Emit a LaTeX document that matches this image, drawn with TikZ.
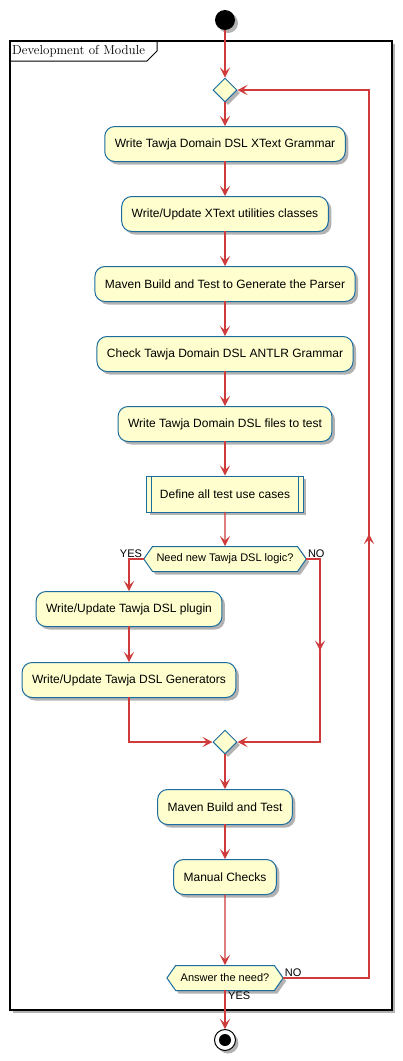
\documentclass[tikz,border=0pt]{standalone}
\usepackage{fontspec}
\newfontfamily\umlfont{Liberation Sans}
\usetikzlibrary{shapes.geometric,shapes.symbols,arrows.meta,shadows,decorations.markings}
\definecolor{umlfill}{HTML}{FEFECE}
\definecolor{umlblue}{HTML}{1B6DA0}
\definecolor{umlred}{HTML}{CF3A3A}
\tikzset{
  umlshadow/.style={drop shadow={shadow xshift=3pt,shadow yshift=-3pt,opacity=0.3,fill=black}},
  activity/.style={rectangle,rounded corners=10pt,draw=umlblue,fill=umlfill,line width=1pt,
    minimum height=35pt,inner xsep=10pt,font=\umlfont\fontsize{12}{14}\selectfont,umlshadow},
  subactivity/.style={activity,rounded corners=0pt,inner xsep=13pt,minimum height=36pt},
  junction/.style={diamond,draw=umlblue,fill=umlfill,line width=1pt,minimum width=24pt,
    minimum height=24pt,inner sep=0pt,umlshadow},
  decision/.style={signal,signal to=west and east,signal pointer angle=110,draw=umlblue,
    fill=umlfill,line width=1pt,minimum height=25pt,inner xsep=4pt,inner ysep=0pt,
    font=\umlfont\fontsize{11}{13}\selectfont,umlshadow},
  guard/.style={inner sep=1pt,font=\umlfont\fontsize{11}{13}\selectfont},
  flow/.style={umlred,line width=1.2pt,line cap=rect},
  flowarrow/.style={flow,-{Stealth[length=10pt,width=10pt,inset=4.5pt]}},
  midarrow/.style={flow,postaction={decorate},
    decoration={markings,mark=at position 0.5 with {\arrow{Stealth[length=10pt,width=10pt,inset=4.5pt]}}}},
}
\begin{document}
\begin{tikzpicture}[x=1pt,y=-1pt]
    \useasboundingbox (0,0) rectangle (402,1061);

    % frame of the module
    \draw[black,line width=1.5pt,fill=white,umlshadow] (10,41) rectangle (392,1010);
    \draw[black,line width=1pt] (10,61) -- (147,61) -- (157,51) -- (157,41);
    \node[anchor=west,inner sep=0pt,font=\fontsize{13}{15}\selectfont] (frametitle) at (12,51) {Development of Module};

    \node[circle,fill=black,minimum size=20pt,inner sep=0pt,umlshadow] (start) at (225,20) {};
    \node[junction] (m1) at (225,90) {};

    \foreach \i/\y/\t in {1/144/{Write Tawja Domain DSL XText Grammar},2/214/{Write/Update XText utilities classes},3/284/{Maven Build and Test to Generate the Parser},4/354/{Check Tawja Domain DSL ANTLR Grammar},5/424/{Write Tawja Domain DSL files to test}} {
      \node[activity] (b\i) at (225,\y) {\t};
    }
    \node[subactivity] (b6) at (225,494) {Define all test use cases};
    \draw[umlblue,line width=1pt] ([xshift=5pt]b6.north west) -- ([xshift=5pt]b6.south west);
    \draw[umlblue,line width=1pt] ([xshift=-5pt]b6.north east) -- ([xshift=-5pt]b6.south east);

    \node[decision] (q1) at (225,559) {Need new Tawja DSL logic?};
    \node[guard,anchor=south east] (q1yes) at (q1.west) {YES};
    \node[guard,anchor=south west] (q1no) at (q1.east) {NO};

    \node[activity] (plugin) at (129,609) {Write/Update Tawja DSL plugin};
    \node[activity] (gen) at (129,680) {Write/Update Tawja DSL Generators};
    \node[junction] (m2) at (225,742) {};
    \coordinate (nobend) at (320,559);
    \coordinate (nojoin) at (320,742);

    \node[activity] (b7) at (225,807) {Maven Build and Test};
    \node[activity] (b8) at (225,877) {Manual Checks};
    \node[decision,inner xsep=5pt] (q2) at (225,978) {Answer the need?};
    \node[guard,anchor=south west] (q2no) at (q2.east) {NO};
    \node[guard,anchor=north west,xshift=2pt] (q2yes) at (q2.south) {YES};
    \coordinate (loopbot) at (369,978);
    \coordinate (looptop) at (369,90);

    \node[circle,draw=black,line width=1pt,fill=white,minimum size=21pt,inner sep=0pt,umlshadow] (stop) at (225,1040) {};
    \node[circle,fill=black,minimum size=12pt,inner sep=0pt] (stopdot) at (stop.center) {};

    % connectors
    \draw[flowarrow] (start) -- (m1);
    \foreach \a/\b in {m1/b1,b1/b2,b2/b3,b3/b4,b4/b5,b5/b6,b6/q1,m2/b7,b7/b8,b8/q2,q2/stop} {
      \draw[flowarrow] (\a) -- (\b);
    }
    \draw[flowarrow] (q1.west) -| (plugin.north);
    \draw[flowarrow] (plugin) -- (gen);
    \draw[flowarrow] (gen.south) |- (m2.west);
    \draw[flow] (q1.east) -- (nobend);
    \draw[midarrow] (nobend) -- (nojoin);
    \draw[flowarrow] (nojoin) -- (m2.east);
    \draw[flow] (q2.east) -- (loopbot);
    \draw[midarrow] (loopbot) -- (looptop);
    \draw[flowarrow] (looptop) -- (m1.east);
  \end{tikzpicture}
\end{document}
